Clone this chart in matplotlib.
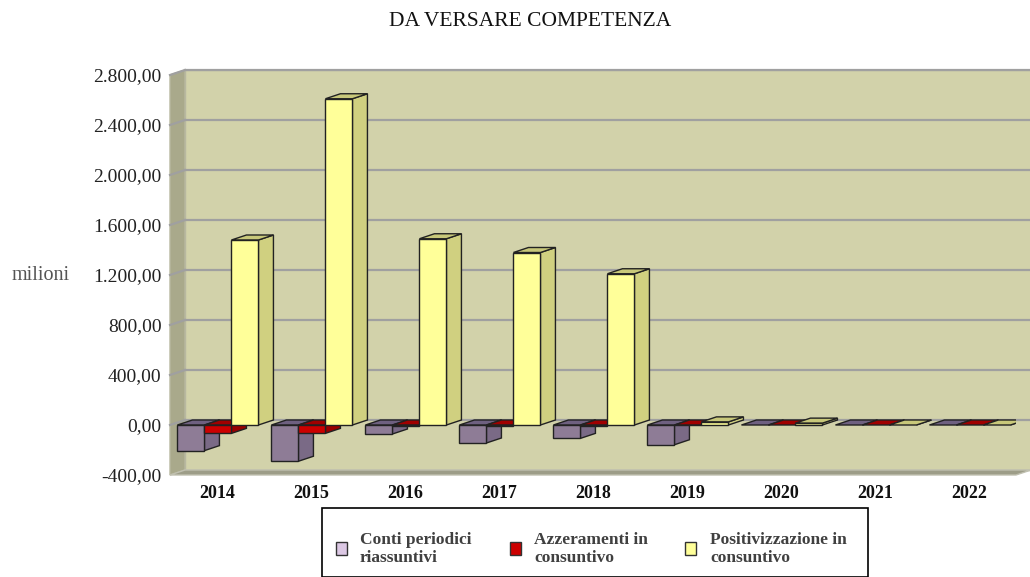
import matplotlib
matplotlib.use("Agg")
import matplotlib.pyplot as plt
from matplotlib.patches import Polygon, Rectangle

# data (milioni)
years = ["2014", "2015", "2016", "2017", "2018", "2019", "2020", "2021", "2022"]
conti = [-205, -290, -72, -144, -107, -158, 0, 0, 0]
azzeramenti = [-67, -67, -5, -4, -4, -3, 0, 0, 0]
positivizzazione = [1480, 2610, 1490, 1380, 1210, 25, 15, 0, 0]
series_names = ["Conti periodici\nriassuntivi", "Azzeramenti in\nconsuntivo", "Positivizzazione in\nconsuntivo"]
yticks = [-400, 0, 400, 800, 1200, 1600, 2000, 2400, 2800]

plt.rcParams['font.family'] = ['Liberation Serif', 'DejaVu Serif']

W, H = 1030, 577
fig = plt.figure(figsize=(W / 100, H / 100), dpi=100)
ax = fig.add_axes([170 / W, (H - 475) / H, (1016 - 170) / W, 400 / H])
ax.set_xlim(-0.5, len(years) - 0.5)
ax.set_ylim(yticks[0], yticks[-1])
for s in ax.spines.values():
    s.set_visible(False)
ax.set_facecolor("none")

# depth offset (data units): about 15 px right, 5 px up
dx = 15 / 94
dy = 40

x0, x1 = -0.5, len(years) - 0.5
y0, y1 = yticks[0], yticks[-1]
wall = "#d2d2aa"
# back wall, side wall, floor
ax.add_patch(Rectangle((x0 + dx, y0 + dy), x1 - x0, y1 - y0, fc=wall, ec="#b8b8a0", lw=1, clip_on=False, zorder=0))
ax.add_patch(Polygon([(x0, y0), (x0 + dx, y0 + dy), (x0 + dx, y1 + dy), (x0, y1)],
                     fc="#a9a98b", ec="#b8b8a0", lw=1, clip_on=False, zorder=0.5))
ax.add_patch(Polygon([(x0, y0), (x1, y0), (x1 + dx, y0 + dy), (x0 + dx, y0 + dy)],
                     fc="#9d9d88", ec="#c0c0b0", lw=1, clip_on=False, zorder=0.5))
for t in yticks[1:]:
    ax.plot([x0 + dx, x1 + dx], [t + dy, t + dy], color="#a0a0a0", lw=1.6, clip_on=False, zorder=0.6)
    ax.plot([x0, x0 + dx], [t, t + dy], color="#a0a0a0", lw=1.6, clip_on=False, zorder=0.6)

# bars: front faces via ax.bar, top and side faces from the same values
bw = 27 / 94
offsets = [-bw, 0, bw]
colors = [("#8e7c96", "#6e6080", "#7a6a86"),
          ("#cc0000", "#a00000", "#990000"),
          ("#ffff99", "#c8c87a", "#d0d080")]
series = [conti, azzeramenti, positivizzazione]
z = 1
for i in range(len(years)):
    for k in range(3):
        v = series[k][i]
        xc = i + offsets[k] + 0.01
        xa, xb = xc - bw / 2, xc + bw / 2
        front, topc, sidec = colors[k]
        top = max(v, 0)
        bot = min(v, 0)
        ax.add_patch(Polygon([(xb, bot), (xb + dx, bot + dy), (xb + dx, top + dy), (xb, top)],
                             fc=sidec, ec="#222222", lw=1, zorder=z))
        ax.add_patch(Polygon([(xa, top), (xb, top), (xb + dx, top + dy), (xa + dx, top + dy)],
                             fc=topc, ec="#222222", lw=1, zorder=z))
        if v != 0:
            ax.bar(xc, v, width=bw, color=front, edgecolor="#222222", lw=1, zorder=z + 0.5)
        z += 1

ax.set_xticks(range(len(years)))
ax.set_xticklabels(years, fontsize=13, fontweight="bold", color="#111111")
ax.set_yticks(yticks)
ax.set_yticklabels([f"{t:,.2f}".replace(",", "X").replace(".", ",").replace("X", ".") for t in yticks],
                   fontsize=14, color="#222222")
ax.tick_params(length=0, pad=6)
ax.tick_params(axis="x", pad=7)

fig.text(530 / W, 1 - 21 / H, "DA VERSARE COMPETENZA", ha="center", va="center", fontsize=15.5, color="#111111")
fig.text(12 / W, 1 - 275 / H, "milioni", ha="left", va="center", fontsize=14.5, color="#555555")

# legend box (cut by the bottom edge, as in the original)
fig.add_artist(Rectangle((322 / W, 0), (868 - 322) / W, (H - 520) / H + 0.02, transform=fig.transFigure,
                         fc="white", ec="black", lw=1.2, clip_on=False))
leg_colors = ["#dcc8e4", "#cc0000", "#ffff99"]
sw_x = [336, 510, 685]
tx_x = [360, 534, 710]
for k in range(3):
    fig.add_artist(Rectangle((sw_x[k] / W, 1 - 555 / H), 11 / W, 13 / H, transform=fig.transFigure,
                             fc=leg_colors[k], ec="#333333", lw=1))
    fig.text(tx_x[k] / W, 1 - 549 / H, series_names[k], ha="left", va="center", fontsize=12.5,
             fontweight="bold", color="#404040", linespacing=1.25)

fig.savefig("out.png", dpi=100)
